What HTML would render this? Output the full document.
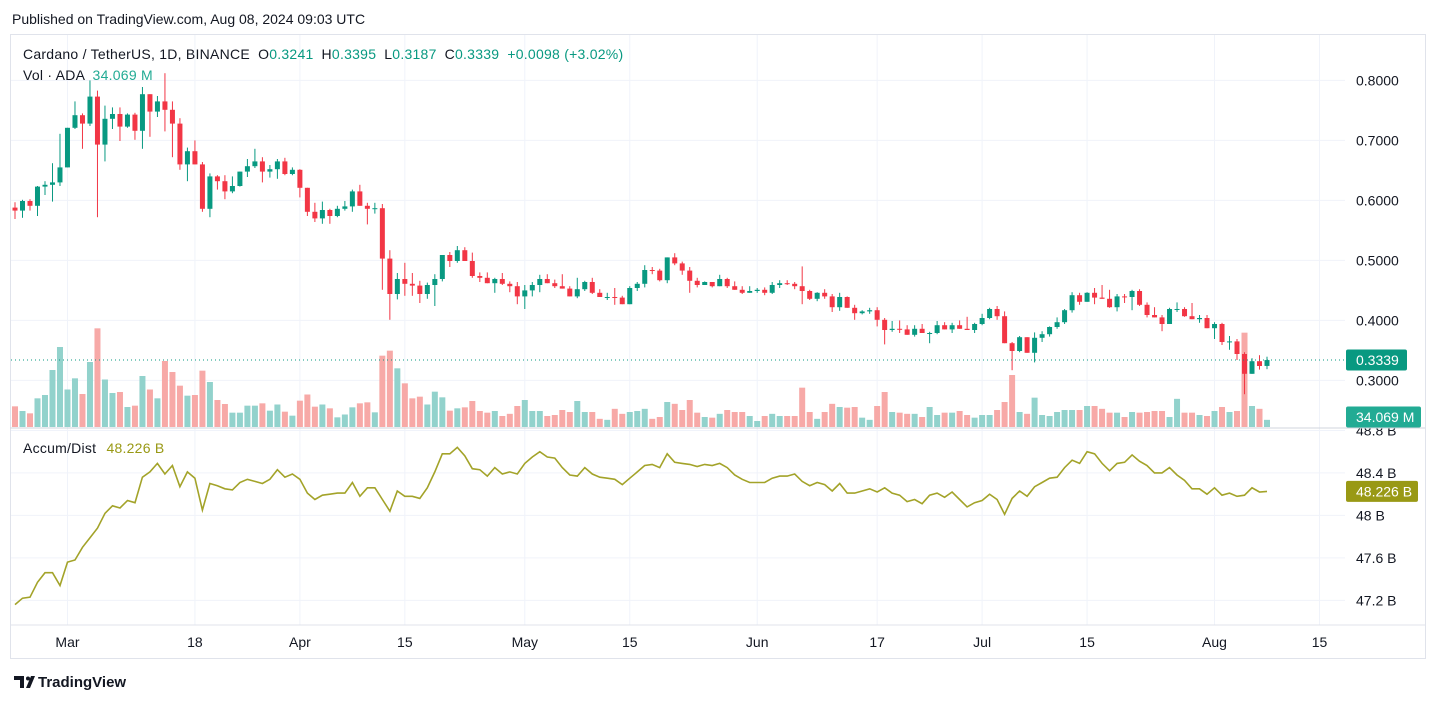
<!DOCTYPE html>
<html><head><meta charset="utf-8"><style>
html,body{margin:0;padding:0;background:#fff;width:1439px;height:703px;overflow:hidden}
svg{display:block;font-family:"Liberation Sans",sans-serif}
</style></head><body>
<svg id="chart" width="1439" height="703" viewBox="0 0 1439 703" xmlns="http://www.w3.org/2000/svg">
<text x="12" y="24" font-size="14" fill="#131722">Published on TradingView.com, Aug 08, 2024 09:03 UTC</text>
<rect x="10.5" y="34.5" width="1415" height="624" fill="none" stroke="#e0e3eb"/>
<g id="grid"></g>
<g id="vol"></g>
<g id="candles"></g>
<g id="ad"></g>
<g id="axes"></g>
<line x1="10" y1="428" x2="1425" y2="428" stroke="#d1d4dc"/>
<line x1="10" y1="625" x2="1425" y2="625" stroke="#e0e3eb"/>
<text x="23" y="59" font-size="14" letter-spacing="0.25" fill="#131722">Cardano / TetherUS, 1D, BINANCE <tspan dx="4">O</tspan><tspan fill="#089981">0.3241</tspan><tspan dx="8">H</tspan><tspan fill="#089981">0.3395</tspan><tspan dx="8">L</tspan><tspan fill="#089981">0.3187</tspan><tspan dx="8">C</tspan><tspan fill="#089981">0.3339</tspan><tspan dx="8" fill="#089981">+0.0098 (+3.02%)</tspan></text>
<text x="23" y="80" font-size="14" letter-spacing="0.25" fill="#131722">Vol · ADA <tspan dx="4" fill="#22ab94">34.069 M</tspan></text>
<text x="23" y="453" font-size="14" letter-spacing="0.25" fill="#131722">Accum/Dist <tspan dx="6" fill="#999915">48.226 B</tspan></text>
<g>
<path d="M14 676h10v12h-4v-8h-6z M26 688l5-12h4l-5 12z" fill="#131722"/>
<circle cx="28" cy="678.5" r="2" fill="#131722"/>
<text x="38" y="687" font-size="15" font-weight="bold" fill="#131722">TradingView</text>
</g>
</svg>
<script>
const closes=[0.583,0.599,0.591,0.623,0.626,0.630,0.655,0.721,0.742,0.728,0.773,0.693,0.736,0.744,0.723,0.743,0.716,0.777,0.748,0.765,0.751,0.728,0.660,0.682,0.660,0.586,0.640,0.632,0.615,0.624,0.648,0.657,0.665,0.648,0.652,0.665,0.644,0.651,0.621,0.581,0.570,0.584,0.574,0.586,0.590,0.615,0.591,0.586,0.587,0.503,0.444,0.469,0.461,0.458,0.444,0.459,0.469,0.509,0.499,0.517,
0.499,0.474,0.471,0.462,0.469,0.461,0.457,0.440,0.450,0.459,0.469,0.462,0.457,0.453,0.440,0.452,0.464,0.446,0.439,0.439,0.438,0.427,0.454,0.461,0.484,0.483,0.467,0.505,0.495,
0.483,0.466,0.459,0.464,0.457,0.469,0.457,0.451,0.446,0.449,0.451,0.446,0.459,0.462,0.461,0.457,0.449,0.436,0.446,0.440,0.422,0.439,0.421,0.412,0.415,0.417,0.401,0.384,0.386,0.385,
0.376,0.386,0.379,0.379,0.392,0.385,0.392,0.386,0.384,0.394,0.404,0.419,0.407,0.362,0.349,0.372,0.346,0.371,0.377,0.389,0.397,0.417,0.442,0.431,0.446,0.438,0.436,0.422,0.440,
0.439,0.449,0.426,0.409,0.405,0.394,0.419,0.419,0.407,0.402,0.404,0.387,0.394,0.364,0.365,0.344,0.311,0.332,0.324,0.3339];
const highs=[0.597,0.601,0.602,0.624,0.632,0.662,0.711,0.721,0.765,0.745,0.800,0.783,0.758,0.755,0.755,0.745,0.746,0.789,0.777,0.774,0.812,0.765,0.737,0.688,0.700,0.664,0.645,0.642,0.642,0.640,0.648,0.669,0.686,0.672,0.659,0.669,0.671,0.655,0.652,0.621,0.596,0.598,0.586,0.591,0.599,0.618,0.626,0.596,0.596,0.594,0.517,0.479,0.496,0.479,0.466,0.463,0.477,0.509,0.514,0.524,
0.522,0.513,0.480,0.480,0.471,0.479,0.465,0.464,0.459,0.464,0.476,0.477,0.468,0.477,0.457,0.471,0.466,0.471,0.452,0.446,0.454,0.441,0.457,0.464,0.492,0.489,0.486,0.505,0.512,
0.498,0.489,0.471,0.465,0.464,0.476,0.471,0.465,0.457,0.457,0.454,0.455,0.464,0.467,0.467,0.464,0.490,0.451,0.447,0.452,0.444,0.446,0.440,0.426,0.417,0.421,0.422,0.404,0.399,0.400,
0.392,0.392,0.394,0.381,0.399,0.397,0.396,0.400,0.406,0.396,0.411,0.421,0.424,0.415,0.364,0.374,0.372,0.380,0.382,0.390,0.405,0.419,0.447,0.446,0.447,0.454,0.459,0.451,0.444,
0.444,0.451,0.452,0.430,0.422,0.409,0.421,0.430,0.422,0.429,0.409,0.409,0.397,0.396,0.374,0.369,0.347,0.337,0.342,0.3395];
const lows=[0.569,0.571,0.583,0.574,0.609,0.598,0.624,0.655,0.719,0.686,0.724,0.572,0.665,0.719,0.699,0.721,0.701,0.686,0.706,0.739,0.715,0.672,0.651,0.632,0.660,0.581,0.572,0.618,0.602,0.612,0.623,0.639,0.654,0.630,0.638,0.636,0.642,0.642,0.605,0.574,0.564,0.561,0.561,0.572,0.583,0.581,0.591,0.560,0.578,0.451,0.401,0.435,0.441,0.441,0.429,0.436,0.424,0.465,0.489,0.496,
0.499,0.471,0.464,0.462,0.446,0.459,0.447,0.427,0.419,0.440,0.447,0.462,0.454,0.453,0.440,0.437,0.449,0.444,0.439,0.434,0.426,0.427,0.427,0.449,0.455,0.477,0.465,0.462,0.492,
0.476,0.446,0.455,0.459,0.455,0.457,0.454,0.451,0.444,0.446,0.446,0.442,0.444,0.454,0.459,0.452,0.427,0.434,0.432,0.436,0.414,0.416,0.421,0.401,0.410,0.411,0.390,0.360,0.381,0.379,
0.376,0.373,0.379,0.362,0.377,0.385,0.379,0.386,0.384,0.379,0.392,0.402,0.401,0.362,0.317,0.347,0.346,0.330,0.364,0.373,0.386,0.394,0.413,0.426,0.431,0.427,0.436,0.421,0.415,
0.429,0.417,0.424,0.405,0.405,0.382,0.394,0.414,0.406,0.402,0.396,0.387,0.369,0.359,0.351,0.334,0.277,0.311,0.318,0.3187];
const firstOpen=0.588;
const lastOpen=0.3241;
const volumes=[124,96,82,172,192,342,480,225,292,198,390,592,285,204,210,120,128,306,225,172,396,330,248,188,192,338,270,162,138,86,86,
128,128,142,98,135,92,68,158,195,122,135,112,58,75,118,142,148,88,428,458,352,262,172,182,135,212,178,98,112,
118,156,96,86,96,66,79,126,162,96,96,66,72,102,90,156,90,90,49,43,109,79,90,96,109,49,60,150,139,
102,162,86,60,56,79,102,90,90,66,36,66,79,66,66,66,236,90,49,90,139,120,116,120,56,43,126,210,90,86,
79,79,60,120,72,86,86,96,72,56,72,72,102,150,312,90,79,176,72,66,90,102,102,102,126,126,109,86,86,
60,90,86,90,96,96,60,169,86,86,72,66,96,120,90,96,566,126,109,43];
const accDist=[47.16,47.22,47.23,47.37,47.46,47.46,47.34,47.56,47.58,47.70,47.79,47.88,48.02,48.09,48.07,48.14,48.12,48.36,48.41,48.49,48.39,48.47,48.27,48.41,48.35,48.05,48.30,48.28,48.25,48.24,48.31,
48.34,48.32,48.30,48.34,48.43,48.36,48.39,48.34,48.21,48.15,48.19,48.20,48.21,48.21,48.31,48.18,48.26,48.26,48.15,48.04,48.23,48.18,48.18,48.16,48.26,48.41,48.58,48.58,48.64,
48.56,48.44,48.43,48.37,48.45,48.39,48.41,48.39,48.49,48.55,48.60,48.55,48.54,48.45,48.38,48.37,48.45,48.39,48.36,48.35,48.34,48.29,48.35,48.41,48.47,48.48,48.45,48.58,48.50,
48.49,48.48,48.46,48.48,48.47,48.49,48.45,48.38,48.34,48.31,48.31,48.31,48.35,48.37,48.37,48.39,48.32,48.28,48.31,48.29,48.23,48.30,48.21,48.21,48.23,48.25,48.22,48.26,48.21,48.19,
48.13,48.15,48.11,48.19,48.21,48.17,48.22,48.15,48.08,48.12,48.14,48.20,48.15,48.01,48.16,48.23,48.18,48.27,48.31,48.35,48.36,48.45,48.52,48.49,48.60,48.58,48.49,48.42,48.49,
48.50,48.57,48.51,48.47,48.40,48.40,48.45,48.38,48.33,48.25,48.25,48.20,48.26,48.19,48.21,48.18,48.19,48.26,48.22,48.226];
const timeTickIndex=[7,24,38,52,68,82,99,115,129,143,160,174];
const timeTickLabels=["Mar","18","Apr","15","May","15","Jun","17","Jul","15","Aug","15"];
const priceTicks=[0.8,0.7,0.6,0.5,0.4,0.3];
const priceTickLabels=["0.8000","0.7000","0.6000","0.5000","0.4000","0.3000"];
const adTicks=[48.8,48.4,48.0,47.6,47.2];
const adTickLabels=["48.8 B","48.4 B","48 B","47.6 B","47.2 B"];

const NS="http://www.w3.org/2000/svg";
const xAt=i=>15+i*7.497;
const yPrice=p=>80.4+(0.8-p)*600;
const yVol=v=>427-v/6;
const yAD=v=>515.4-(v-48)*106.2;
function mk(tag,attrs,parent){const e=document.createElementNS(NS,tag);for(const k in attrs)e.setAttribute(k,attrs[k]);parent.appendChild(e);return e;}
const grid=document.getElementById('grid'),cg=document.getElementById('candles'),vg=document.getElementById('vol'),ag=document.getElementById('ad'),ax=document.getElementById('axes');

priceTicks.forEach((p,k)=>{
  const l=mk('line',{x1:11,x2:1345,y1:yPrice(p),y2:yPrice(p),stroke:'#f0f3fa'},grid);
  
  
  const t=mk('text',{x:1356,y:yPrice(p)+5,'font-size':14,fill:'#131722'},ax);
  t.textContent=priceTickLabels[k];
  
  
});
adTicks.forEach((v,k)=>{
  const l=mk('line',{x1:11,x2:1345,y1:yAD(v),y2:yAD(v),stroke:'#f0f3fa'},grid);
  
  
  const t=mk('text',{x:1356,y:yAD(v)+5,'font-size':14,fill:'#131722'},ax);
  t.textContent=adTickLabels[k];
  
  
});
timeTickIndex.forEach((i,k)=>{
  const x=xAt(i);
  const l=mk('line',{x1:x,x2:x,y1:35,y2:625,stroke:'#f0f3fa'},grid);
  
  
  const t=mk('text',{x:x,y:647,'font-size':14,fill:'#131722','text-anchor':'middle'},ax);
  t.textContent=timeTickLabels[k];
  
  
});

for(let i=0;i<closes.length;i++){
  const o=i===0?firstOpen:(i===closes.length-1?lastOpen:closes[i-1]);
  const c=closes[i];
  const up=c>=o;
  const h=Math.max(highs[i],o,c),lo=Math.min(lows[i],o,c);
  const x=xAt(i);
  const vb=mk('rect',{x:x-3,y:yVol(volumes[i]),width:6,height:427-yVol(volumes[i]),fill:up?'#92d2cc':'#f7a9a7'},vg);
  
  
  const col=up?'#089981':'#f23645';
  const w=mk('line',{x1:x,x2:x,y1:yPrice(h),y2:yPrice(lo),stroke:col,'stroke-width':1},cg);
  
  
  const yt=yPrice(Math.max(o,c)),yb=yPrice(Math.min(o,c));
  const b=mk('rect',{x:x-2.5,y:yt,width:5,height:Math.max(1,yb-yt),fill:col},cg);
  
  
}
const pts=accDist.map((v,i)=>xAt(i).toFixed(1)+','+yAD(v).toFixed(1)).join(' ');
const pl=mk('polyline',{points:pts,fill:'none',stroke:'#a3a329','stroke-width':1.6},ag);



const last=closes[closes.length-1];
const dl=mk('line',{x1:11,x2:1345,y1:yPrice(last),y2:yPrice(last),stroke:'#089981','stroke-dasharray':'1 3'},ax);


function badge(name,y,w,fill,label){
  const g=mk('g',{},ax);
  
  
  mk('rect',{x:1346,y:y-10.5,width:w,height:21,rx:2,fill:fill},g);
  const t=mk('text',{x:1356,y:y+5,'font-size':14,fill:'#fff'},g);
  t.textContent=label;
}
badge('last-price-label',yPrice(last),61,'#089981','0.3339');
badge('volume-value-label',417,75,'#22ab94','34.069 M');
badge('ad-value-label',yAD(accDist[accDist.length-1]),72,'#999915','48.226 B');
</script>
</body></html>
